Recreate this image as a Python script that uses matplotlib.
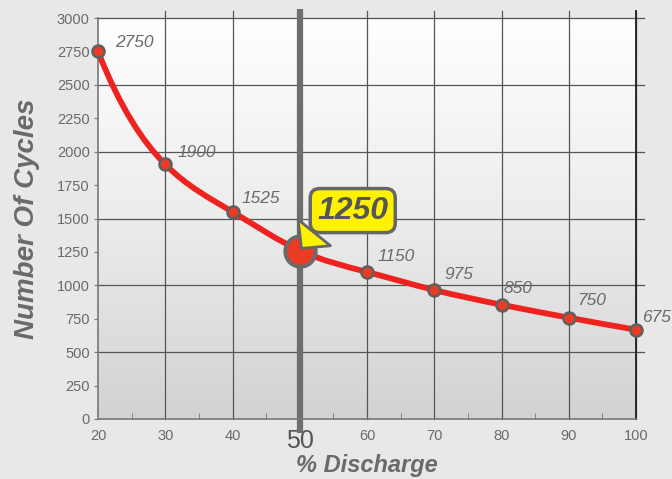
import matplotlib
matplotlib.use("Agg")
import matplotlib.pyplot as plt
import numpy as np
from matplotlib.path import Path
from matplotlib.patches import PathPatch
from matplotlib.ticker import MultipleLocator
from matplotlib.colors import LinearSegmentedColormap

# data (marker positions) and the printed labels
discharge = [20, 30, 40, 50, 60, 70, 80, 90, 100]
cycles = [2750, 1905, 1550, 1260, 1100, 965, 855, 758, 668]
labels = ["2750", "1900", "1525", "", "1150", "975", "850", "750", "675"]
highlight_x = 50
highlight_y = 1260
highlight_label = "1250"

# label offsets in pixels (layout only)
label_dx = [17, 12, 9, 0, 11, 10, 2, 8, 6]
label_dy = [4, 7, 9, 0, 11, 11, 12, 13, 8]

plt.rcParams['font.family'] = ['Liberation Sans', 'DejaVu Sans']
gray = '#6a6a6a'

fig = plt.figure(figsize=(6.72, 4.79), dpi=100)
fig.patch.set_facecolor('#e8e8e8')
ax = fig.add_axes([98/672, 60/479, 538/672, 401/479])
ax.set_xlim(20, 100)
ax.set_ylim(0, 3000)

# background gradient inside the plot area
cmap = LinearSegmentedColormap.from_list('bg', ['#d2d2d2', '#ececec', '#ffffff'])
grad = np.linspace(0, 1, 256).reshape(-1, 1)
ax.imshow(grad, extent=[20, 100, 0, 3000], aspect='auto', cmap=cmap,
          zorder=0, origin='lower')

# grid
for x in range(30, 101, 10):
    ax.plot([x, x], [0, 3055], color='#555555', lw=0.9, zorder=1, clip_on=False)
for y in range(500, 3001, 500):
    ax.plot([20, 101.2], [y, y], color='#555555', lw=0.9, zorder=1, clip_on=False)
ax.plot([100, 100], [0, 3055], color='#222222', lw=1.3, zorder=2, clip_on=False)

# smooth curve through the points: cubic spline (curvature extrapolated at the
# ends) drawn as bezier segments
xs = np.array(discharge, float)
ys = np.array(cycles, float)
n = len(xs)
h = np.diff(xs)
A = np.zeros((n, n))
b = np.zeros(n)
A[0, 0:3] = [1, -2, 1]
A[-1, -3:] = [1, -2, 1]
for i in range(1, n - 1):
    A[i, i-1] = h[i-1]
    A[i, i] = 2 * (h[i-1] + h[i])
    A[i, i+1] = h[i]
    b[i] = 6 * ((ys[i+1] - ys[i]) / h[i] - (ys[i] - ys[i-1]) / h[i-1])
M = np.linalg.solve(A, b)
m = np.zeros(n)
for i in range(n - 1):
    m[i] = (ys[i+1] - ys[i]) / h[i] - h[i] * (2 * M[i] + M[i+1]) / 6
m[-1] = (ys[-1] - ys[-2]) / h[-1] + h[-1] * (M[-2] + 2 * M[-1]) / 6
verts = [(xs[0], ys[0])]
codes = [Path.MOVETO]
for i in range(n - 1):
    verts += [(xs[i] + h[i]/3, ys[i] + m[i]*h[i]/3),
              (xs[i+1] - h[i]/3, ys[i+1] - m[i+1]*h[i]/3),
              (xs[i+1], ys[i+1])]
    codes += [Path.CURVE4] * 3
ax.add_patch(PathPatch(Path(verts, codes), fc='none', ec='#ee2320', lw=4.2,
                       zorder=3, capstyle='round', clip_on=False))

# highlight line at 50%
ax.plot([highlight_x, highlight_x], [-105, 3065], color='#6e6e6e', lw=4.5,
        zorder=2, clip_on=False, solid_capstyle='butt')

# points
ax.scatter(discharge, cycles, s=75, c='#ec3b24', edgecolors='#5f5f5f',
           linewidths=1.8, zorder=4, clip_on=False)
ax.scatter([highlight_x], [highlight_y], s=480, c='#ec3b24', edgecolors='#6a6a6a',
           linewidths=2.8, zorder=5, clip_on=False)

for x, y, t, dx, dy in zip(discharge, cycles, labels, label_dx, label_dy):
    if t:
        ax.annotate(t, (x, y), xytext=(dx, dy), textcoords='offset pixels',
                    ha='left', va='baseline', fontsize=12.5, style='italic',
                    color=gray, zorder=6, annotation_clip=False)

# callout
ax.annotate(highlight_label, (highlight_x, highlight_y), xytext=(53, 40),
            textcoords='offset pixels', ha='center', va='center',
            fontsize=23, fontweight='bold', style='italic', color='#555555',
            bbox=dict(boxstyle='round,pad=0.22,rounding_size=0.3', fc='#fff200',
                      ec='#666666', lw=2.5),
            arrowprops=dict(arrowstyle='wedge,tail_width=1.3,shrink_factor=0.5',
                            fc='#fff200', ec='#666666', lw=2.0,
                            relpos=(0.1, 0.18), shrinkA=0, shrinkB=2),
            zorder=7)

# axes styling
for s in ['top', 'right']:
    ax.spines[s].set_visible(False)
ax.spines['left'].set_color('#777777')
ax.spines['bottom'].set_color('#777777')
ax.spines['left'].set_linewidth(1.2)
ax.spines['bottom'].set_linewidth(1.2)

ax.yaxis.set_major_locator(MultipleLocator(250))
ax.xaxis.set_major_locator(MultipleLocator(10))
ax.xaxis.set_minor_locator(MultipleLocator(5))
ax.tick_params(axis='y', direction='out', length=3, color='#777777',
               labelsize=10.5, labelcolor=gray, pad=3)
ax.tick_params(axis='x', which='major', length=0,
               labelsize=10.5, labelcolor=gray, pad=7)
ax.tick_params(axis='x', which='minor', direction='in', length=4, color='#777777')
for lbl in ax.get_xticklabels():
    if lbl.get_text() == '50':
        lbl.set_fontsize(18)
        lbl.set_color('#555555')

ax.set_xlabel('% Discharge', fontsize=17, fontweight='bold', style='italic',
              color=gray, labelpad=1)
ax.set_ylabel('Number Of Cycles', fontsize=20, fontweight='bold', style='italic',
              color=gray, labelpad=12)

fig.savefig('out.png', dpi=100, facecolor=fig.get_facecolor())
